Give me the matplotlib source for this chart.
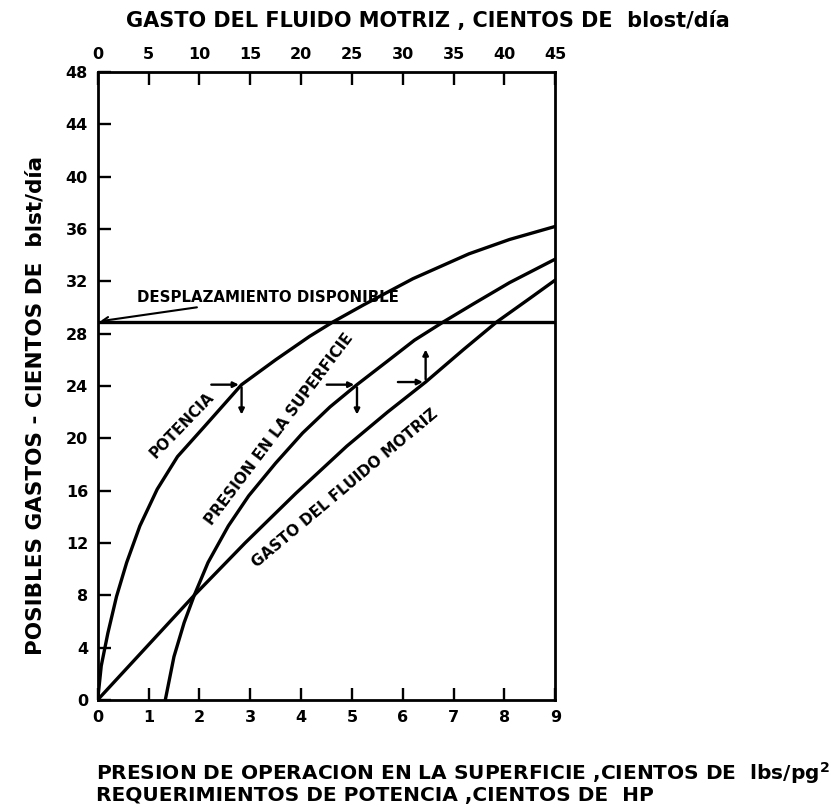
import matplotlib
matplotlib.use("Agg")
import matplotlib.pyplot as plt

# curves (x: bottom axis, y: possible rates)
potencia_x = [0.0, 0.07, 0.2, 0.37, 0.57, 0.83, 1.17, 1.57, 2.1, 2.83, 3.5, 4.17, 4.63,
              5.23, 6.2, 7.3, 8.1, 9.0]
potencia_y = [0.0, 2.6, 5.1, 7.9, 10.5, 13.3, 16.1, 18.6, 20.9, 24.1, 26.0, 27.8, 28.9,
              30.2, 32.2, 34.1, 35.2, 36.2]

presion_x = [1.33, 1.5, 1.7, 1.9, 2.17, 2.57, 2.97, 3.5, 4.03, 4.57, 5.1, 5.7, 6.23,
             6.8, 7.4, 8.1, 9.0]
presion_y = [0.0, 3.3, 5.9, 8.0, 10.5, 13.3, 15.6, 18.1, 20.4, 22.4, 24.1, 25.9, 27.5,
             28.9, 30.3, 31.9, 33.7]

gasto_x = [0.0, 1.9, 2.9, 3.9, 4.9, 5.7, 6.45, 7.2, 7.85, 8.5, 9.0]
gasto_y = [0.0, 8.0, 12.0, 15.8, 19.4, 22.0, 24.3, 26.8, 28.9, 30.7, 32.1]

desplazamiento = 28.9

y_ticks = list(range(0, 49, 4))
x_ticks = list(range(0, 10))
top_ticks = list(range(0, 46, 5))

plt.rcParams["font.family"] = "DejaVu Sans"
plt.rcParams["font.weight"] = "bold"

fig = plt.figure(figsize=(8.35, 8.10), dpi=100)
ax = fig.add_axes([0.117, 0.136, 0.548, 0.775])

lw = 2.4
for xs, ys in [(potencia_x, potencia_y), (presion_x, presion_y), (gasto_x, gasto_y)]:
    ax.plot(xs, ys, color="black", lw=lw, solid_capstyle="round", solid_joinstyle="round")
ax.axhline(desplazamiento, color="black", lw=lw)

ax.set_xlim(0, 9)
ax.set_ylim(0, 48)
ax.set_xticks(x_ticks)
ax.set_yticks(y_ticks)
ax.tick_params(direction="in", length=9, width=1.7, labelsize=11.5, pad=7)
for s in ax.spines.values():
    s.set_linewidth(2)

top = ax.secondary_xaxis("top", functions=(lambda x: x * 5, lambda x: x / 5))
top.set_xticks(top_ticks)
top.tick_params(direction="in", length=9, width=1.7, labelsize=11.5, pad=7)

# reading markers
arrow = dict(arrowstyle="-|>", color="black", lw=1.7, mutation_scale=8)
for px, py in [(potencia_x[9], potencia_y[9]), (presion_x[10], presion_y[10])]:
    ax.annotate("", xy=(px, py), xytext=(px - 0.65, py), arrowprops=arrow)
    ax.annotate("", xy=(px, py - 2.5), xytext=(px, py), arrowprops=arrow)
gx, gy = gasto_x[6], gasto_y[6]
ax.annotate("", xy=(gx, gy), xytext=(gx - 0.6, gy), arrowprops=arrow)
ax.annotate("", xy=(gx, gy + 2.7), xytext=(gx, gy), arrowprops=arrow)

ax.annotate("DESPLAZAMIENTO DISPONIBLE", xy=(0.05, desplazamiento + 0.05),
            xytext=(0.78, 30.8), fontsize=10.8, va="center",
            arrowprops=dict(arrowstyle="->", color="black", lw=1.5,
                            shrinkA=0, shrinkB=0))

ax.text(1.65, 21.0, "POTENCIA", rotation=46, fontsize=10.8, ha="center", va="center")
ax.text(3.57, 20.7, "PRESION EN LA SUPERFICIE", rotation=53, fontsize=11,
        ha="center", va="center")
ax.text(4.86, 16.2, "GASTO DEL FLUIDO MOTRIZ", rotation=40, fontsize=11,
        ha="center", va="center")

fig.text(0.513, 0.974, "GASTO DEL FLUIDO MOTRIZ , CIENTOS DE  blost/día",
         fontsize=15, ha="center", va="center")
fig.text(0.042, 0.499, "POSIBLES GASTOS - CIENTOS DE  blst/día",
         fontsize=15.5, rotation=90, ha="center", va="center")
fig.text(0.115, 0.046, "PRESION DE OPERACION EN LA SUPERFICIE ,CIENTOS DE  lbs/pg$^{2}$",
         fontsize=14.5, ha="left", va="center")
fig.text(0.115, 0.018, "REQUERIMIENTOS DE POTENCIA ,CIENTOS DE  HP",
         fontsize=14.5, ha="left", va="center")

fig.savefig("out.png", dpi=100)
